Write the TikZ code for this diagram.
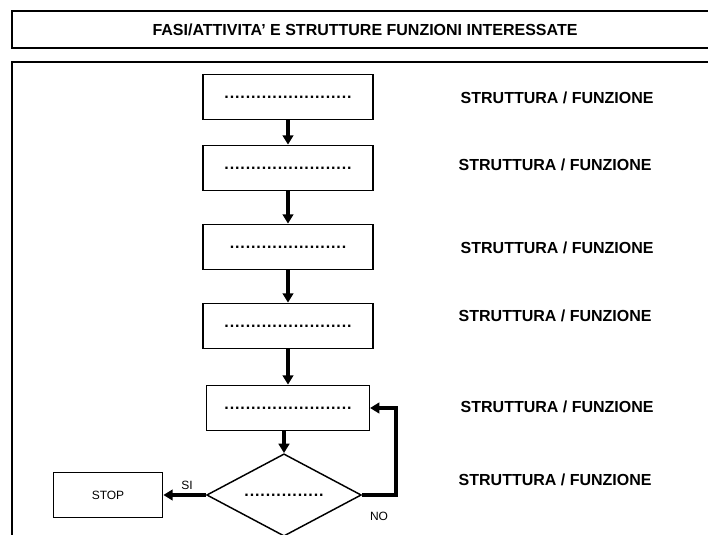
\documentclass[tikz,border=0pt]{standalone}
\usepackage{fontspec}
\setmainfont{Liberation Sans}
\usepackage{tikz}
\usetikzlibrary{arrows.meta, shapes.geometric}

\newcommand{\puntini}[1]{\hbox to #1{\bfseries\leaders\hbox to 4pt{\hss.\hss}\hfill}}

\begin{document}
\begin{tikzpicture}[x=0.75pt, y=-0.75pt,
    >={Triangle[length=7pt, width=8pt]},
    fase/.style={draw, line width=1.1pt, minimum width=127.5pt, minimum height=34pt, inner sep=0pt, font=\fontsize{12}{14}\selectfont},
    decisione/.style={draw, diamond, line width=1.1pt, minimum width=116pt, minimum height=57pt, inner sep=0pt, font=\fontsize{12}{14}\selectfont},
    freccia/.style={->, line width=2.8pt},
    etichetta/.style={anchor=west, font=\fontsize{12}{14}\selectfont\bfseries},
    piccolo/.style={font=\fontsize{9}{11}\selectfont}]
    \clip (0,0) rectangle (708,535);

    % 1. Cornice e titolo
    \draw[line width=1.3pt] (12,11) rectangle (730,48);
    \node[font=\fontsize{12}{14}\selectfont\bfseries] (titolo) at (365,30)
        {FASI/ATTIVITA’ E STRUTTURE FUNZIONI INTERESSATE};
    \draw[line width=1.3pt] (730,62) -- (12,62) -- (12,560);

    % 2. Fasi
    \node[fase] (f1) at (288,97) {\puntini{96pt}};
    \node[fase] (f2) at (288,168) {\puntini{96pt}};
    \node[fase] (f3) at (288,247) {\puntini{88pt}};
    \node[fase] (f4) at (288,326) {\puntini{96pt}};
    \node[fase, minimum width=122pt] (f5) at (288,408) {\puntini{96pt}};
    \node[decisione] (d) at (284,495) {\puntini{60pt}};
    \node[fase, minimum width=82pt, piccolo] (stop) at (108,495) {STOP};

    % 3. Frecce
    \draw[freccia] (f1) -- (f2);
    \draw[freccia] (f2) -- (f3);
    \draw[freccia] (f3) -- (f4);
    \draw[freccia] (f4) -- (f5);
    \draw[freccia] (f5.south -| d.north) -- (d.north);
    \draw[freccia] (d.west) -- (stop.east);
    \draw[freccia] (d.east) -- ++(34,0) |- (f5.east);
    \node[piccolo] (si) at (187,485) {SI};
    \node[piccolo] (no) at (379,516) {NO};

    % 4. Strutture / funzioni
    \node[etichetta] (s1) at (456,98) {STRUTTURA / FUNZIONE};
    \node[etichetta] (s2) at (454,165) {STRUTTURA / FUNZIONE};
    \node[etichetta] (s3) at (456,248) {STRUTTURA / FUNZIONE};
    \node[etichetta] (s4) at (454,316) {STRUTTURA / FUNZIONE};
    \node[etichetta] (s5) at (456,407) {STRUTTURA / FUNZIONE};
    \node[etichetta] (s6) at (454,480) {STRUTTURA / FUNZIONE};
\end{tikzpicture}
\end{document}
